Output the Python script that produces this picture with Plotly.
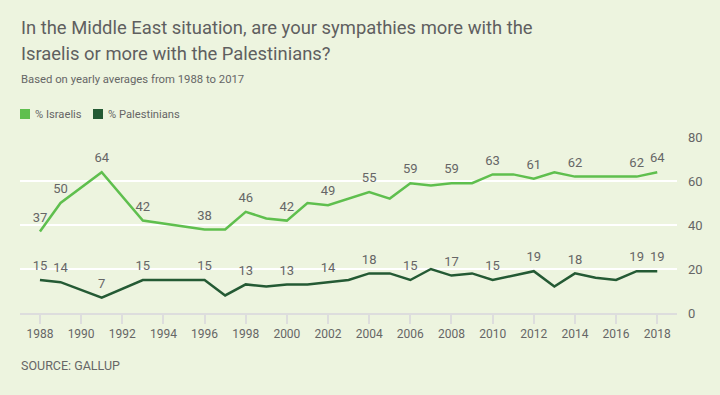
import plotly.graph_objects as go

years = [1988, 1989, 1991, 1993, 1996, 1997, 1998, 1999, 2000, 2001, 2002, 2003,
         2004, 2005, 2006, 2007, 2008, 2009, 2010, 2011, 2012, 2013, 2014, 2015,
         2016, 2017, 2018]
israelis = [37, 50, 64, 42, 38, 38, 46, 43, 42, 50, 49, 52,
            55, 52, 59, 58, 59, 59, 63, 63, 61, 64, 62, 62,
            62, 62, 64]
palestinians = [15, 14, 7, 15, 15, 8, 13, 12, 13, 13, 14, 15,
                18, 18, 15, 20, 17, 18, 15, 17, 19, 12, 18, 16,
                15, 19, 19]
label_years = [1988, 1989, 1991, 1993, 1996, 1998, 2000, 2002, 2004, 2006,
               2008, 2010, 2012, 2014, 2017, 2018]
x_ticks = list(range(1988, 2019, 2))
y_ticks = [0, 20, 40, 60, 80]
series_names = ["% Israelis", "% Palestinians"]

title_lines = ["In the Middle East situation, are your sympathies more with the",
               "Israelis or more with the Palestinians?"]
subtitle = "Based on yearly averages from 1988 to 2017"
source = "SOURCE: GALLUP"

C_ISR = "#5fbf4e"
C_PAL = "#245a34"
BG = "#edf4df"
TXT = "#666666"
FONT = "Roboto"

W, H = 720, 395
ML, MR, MT, MB = 20, 43, 137, 82
PW, PH = W - ML - MR, H - MT - MB


def px_x(p):  # pixel -> paper x
    return (p - ML) / PW


def px_y(p):  # pixel (from top) -> paper y
    return (H - MB - p) / PH


def labels(vals):
    return [str(v) if y in label_years else "" for y, v in zip(years, vals)]


fig = go.Figure()
for vals, col in [(israelis, C_ISR), (palestinians, C_PAL)]:
    fig.add_trace(go.Scatter(
        x=years, y=vals, mode="lines+markers+text", text=labels(vals),
        textposition="top center", textfont=dict(family=FONT, size=13, color=TXT),
        marker=dict(size=9, color="rgba(0,0,0,0)", line=dict(width=0)),
        line=dict(color=col, width=2.5), showlegend=False, cliponaxis=False,
        hoverinfo="skip"))

fig.update_layout(
    width=W, height=H, paper_bgcolor=BG, plot_bgcolor=BG,
    margin=dict(l=ML, r=MR, t=MT, b=MB, autoexpand=False),
    font=dict(family=FONT, color=TXT),
    showlegend=False,
)

fig.update_xaxes(range=[1987.03, 2018.96], tickvals=x_ticks, ticktext=[str(t) for t in x_ticks],
                 showgrid=False, zeroline=False, showline=True, linecolor="#dddddd", linewidth=2,
                 ticks="outside", ticklen=9, tickwidth=2, tickcolor="#dddddd",
                 tickfont=dict(family=FONT, size=12, color=TXT), fixedrange=True,
                 automargin=False)
fig.update_yaxes(range=[0, 80], tickvals=y_ticks, side="right", showgrid=True,
                 gridcolor="#ffffff", gridwidth=2, zeroline=False, showline=False,
                 ticks="", ticklabelstandoff=10, automargin=False,
                 tickfont=dict(family=FONT, size=13, color=TXT), fixedrange=True)

annots = [
    dict(text=title_lines[0], x=px_x(19), y=px_y(28), xanchor="left", yanchor="middle",
         font=dict(family=FONT, size=18.4, color="#5f5f5f"), align="left"),
    dict(text=title_lines[1], x=px_x(19), y=px_y(54), xanchor="left", yanchor="middle",
         font=dict(family=FONT, size=18.4, color="#5f5f5f"), align="left"),
    dict(text=subtitle, x=px_x(19), y=px_y(79), xanchor="left", yanchor="middle",
         font=dict(family=FONT, size=11.3, color=TXT), align="left"),
    dict(text=source, x=px_x(19), y=px_y(365), xanchor="left", yanchor="middle",
         font=dict(family=FONT, size=12.5, color=TXT), align="left"),
]
# legend
legend_items = [(series_names[0], C_ISR, 20), (series_names[1], C_PAL, 93)]
shapes = []
for name, col, lx in legend_items:
    shapes.append(dict(type="rect", xref="paper", yref="paper",
                       x0=px_x(lx), x1=px_x(lx + 10), y0=px_y(119), y1=px_y(109),
                       fillcolor=col, line=dict(width=0)))
    annots.append(dict(text=name, x=px_x(lx + 13), y=px_y(114), xanchor="left",
                       yanchor="middle", font=dict(family=FONT, size=11.2, color=TXT)))
for a in annots:
    a.update(xref="paper", yref="paper", showarrow=False)
fig.update_layout(annotations=annots, shapes=shapes)

fig.write_html("out.html", config={"displayModeBar": False, "staticPlot": True},
               post_script="document.body.style.margin='0';document.body.style.background='%s';" % BG)
